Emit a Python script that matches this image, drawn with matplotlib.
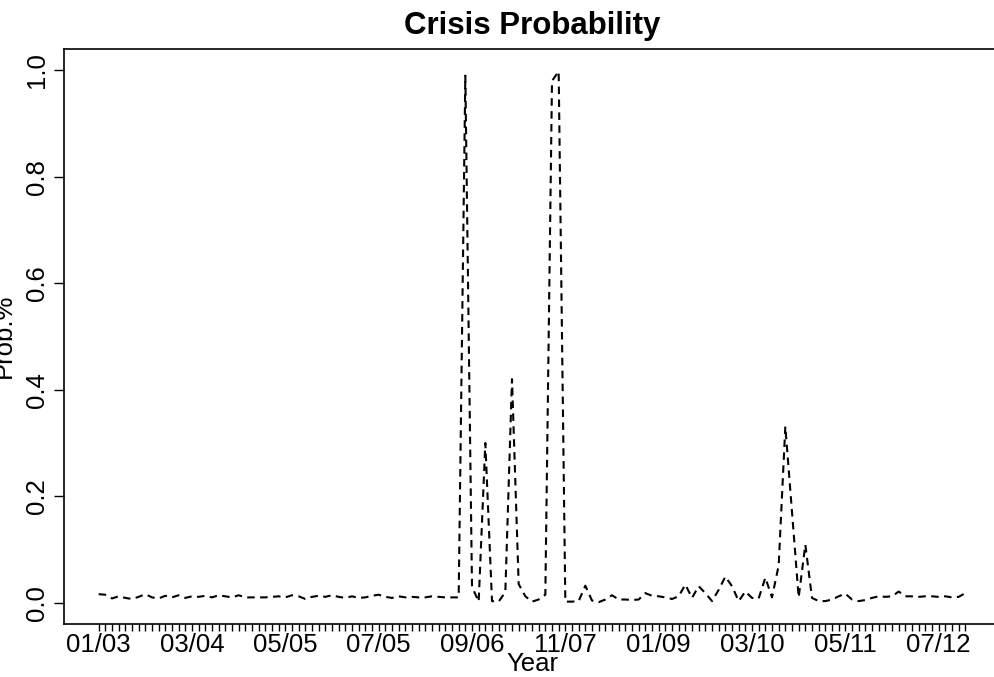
import numpy as np
import matplotlib
matplotlib.use('Agg')
import matplotlib.pyplot as plt
from matplotlib.ticker import FixedLocator

plt.rcParams['font.family'] = ['Liberation Sans', 'DejaVu Sans']

# Crisis probability, one value per period (131 periods)
prob = [
    0.016, 0.015, 0.008, 0.012, 0.009, 0.007, 0.011, 0.016, 0.010, 0.008,
    0.013, 0.010, 0.014, 0.009, 0.012, 0.011, 0.013, 0.010, 0.014, 0.012,
    0.010, 0.014, 0.010, 0.010, 0.010, 0.010, 0.011, 0.012, 0.010, 0.014,
    0.012, 0.007, 0.011, 0.013, 0.011, 0.014, 0.011, 0.009, 0.012, 0.009,
    0.010, 0.013, 0.015, 0.011, 0.009, 0.012, 0.010, 0.011, 0.010, 0.010,
    0.012, 0.011, 0.010, 0.010, 0.010, 0.990, 0.030, 0.002, 0.300, 0.003,
    0.002, 0.020, 0.420, 0.035, 0.012, 0.002, 0.006, 0.015, 0.980, 0.998,
    0.002, 0.002, 0.003, 0.032, 0.004, 0.001, 0.006, 0.014, 0.006, 0.006,
    0.005, 0.006, 0.018, 0.013, 0.012, 0.010, 0.007, 0.012, 0.034, 0.009,
    0.031, 0.018, 0.003, 0.024, 0.049, 0.031, 0.003, 0.021, 0.009, 0.008,
    0.047, 0.010, 0.070, 0.331, 0.170, 0.010, 0.109, 0.009, 0.003, 0.003,
    0.006, 0.012, 0.017, 0.006, 0.003, 0.005, 0.009, 0.012, 0.011, 0.012,
    0.021, 0.012, 0.012, 0.011, 0.012, 0.012, 0.011, 0.012, 0.010, 0.011,
    0.018,
]
tick_labels = ['01/03', '03/04', '05/05', '07/05', '09/06',
               '11/07', '01/09', '03/10', '05/11', '07/12']
tick_step = 14

x = np.arange(len(prob))

fig = plt.figure(figsize=(9.95, 6.77), dpi=100)
ax = fig.add_axes([64 / 995, 53 / 677, 936 / 995, 575 / 677])

ax.plot(x, prob, color='black', linewidth=1.5, linestyle=(0, (3.6, 2.6)))

# R-style 4% padding
n = len(prob) - 1
ax.set_xlim(-0.04 * n, n * 1.04)
ax.set_ylim(-0.04, 1.04)

ax.xaxis.set_major_locator(FixedLocator(np.arange(len(tick_labels)) * tick_step))
ax.set_xticklabels(tick_labels)
ax.xaxis.set_minor_locator(FixedLocator(x))
ax.tick_params(axis='x', which='both', length=5, width=1, pad=1.5, labelsize=18.5)

ax.set_yticks([0.0, 0.2, 0.4, 0.6, 0.8, 1.0])
ax.set_yticklabels(['0.0', '0.2', '0.4', '0.6', '0.8', '1.0'],
                   rotation=90, va='center')
ax.tick_params(axis='y', length=7, width=1, pad=4, labelsize=18.5)

for s in ax.spines.values():
    s.set_linewidth(1.2)

ax.set_title('Crisis Probability', fontsize=22.5, fontweight='bold', pad=11)
fig.text(532 / 995, 1 - 671 / 677, 'Year', ha='center', va='baseline',
         fontsize=18.5)
fig.text(4 / 995, 1 - 336 / 677, 'Prob.%', rotation=90,
         ha='center', va='center', fontsize=18.5)

fig.savefig('out.png', dpi=100)
